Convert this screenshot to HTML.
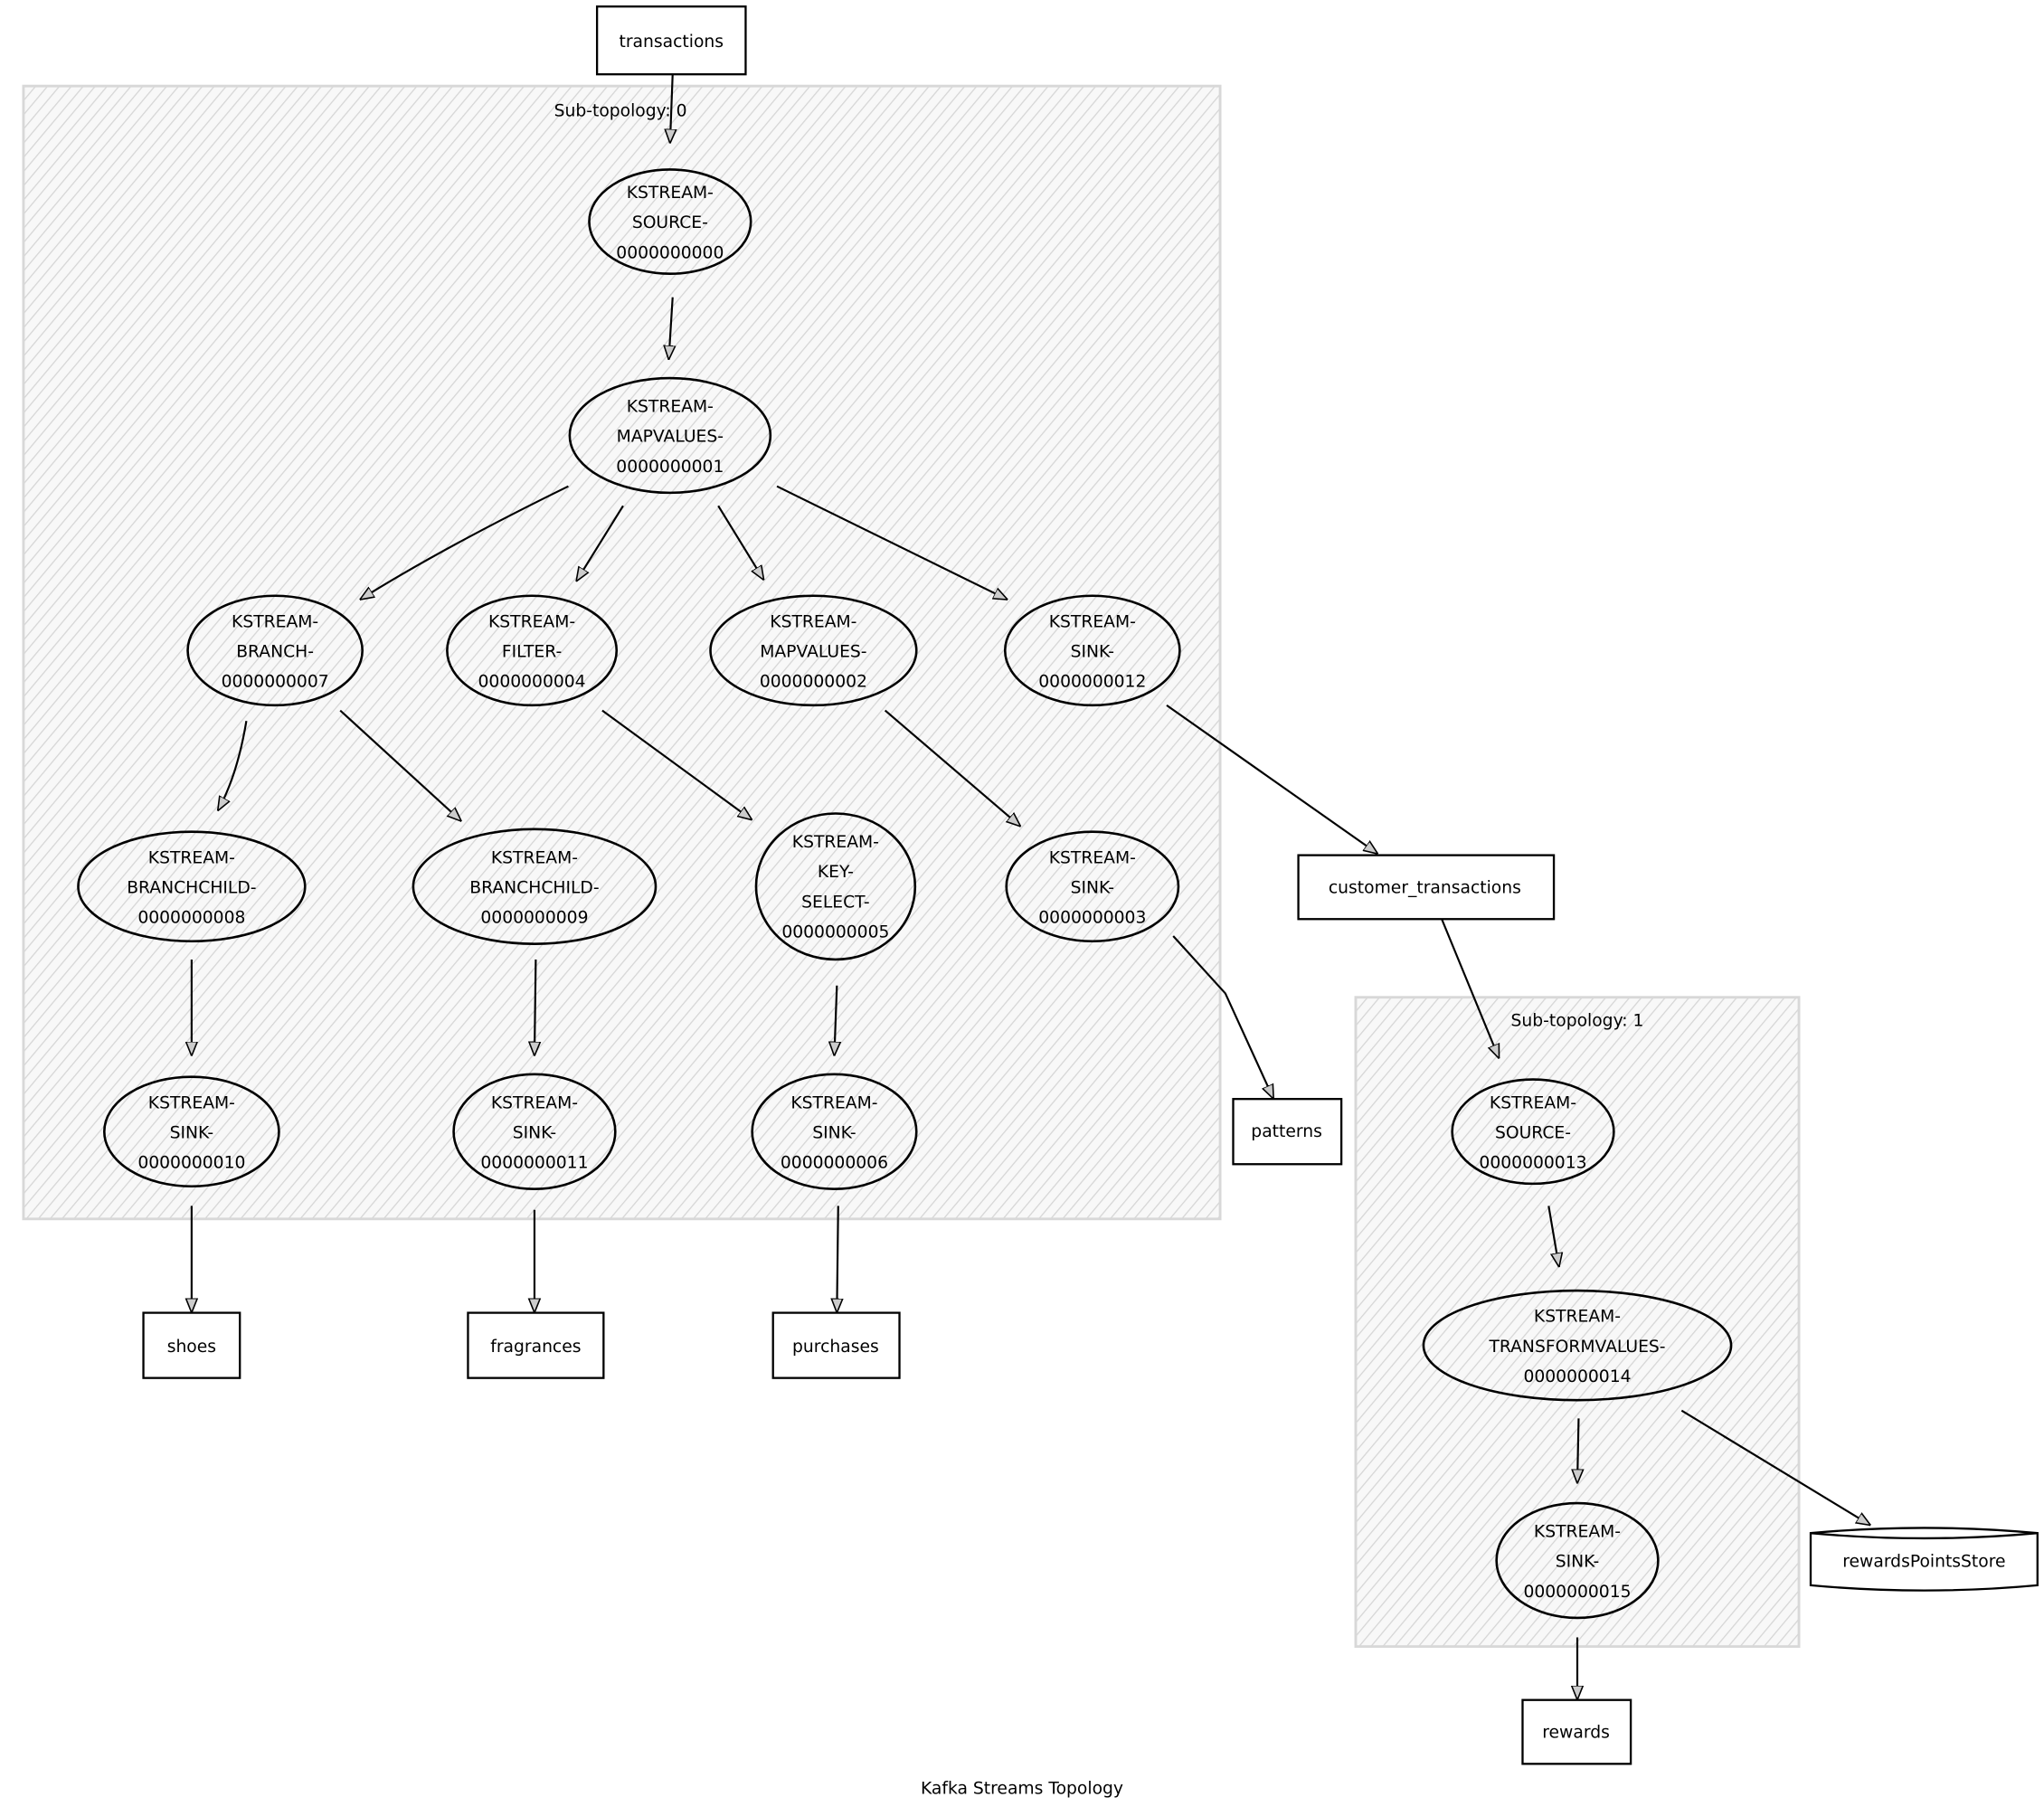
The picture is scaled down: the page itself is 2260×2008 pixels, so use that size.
<!DOCTYPE html>
<html><head><meta charset="utf-8"><style>
html,body{margin:0;padding:0;background:#fff;}
svg{display:block;}
text{font-family:"DejaVu Sans","Liberation Sans",sans-serif;font-size:13px;fill:#000;text-anchor:middle;}
</style></head><body>
<svg width="2260" height="2008" viewBox="0 0 1568 1393" preserveAspectRatio="none" xmlns="http://www.w3.org/2000/svg">
<defs>
<pattern id="h" patternUnits="userSpaceOnUse" width="7" height="7" patternTransform="rotate(40)">
<rect width="7" height="7" fill="#f8f8f8"/>
<line x1="0" y1="0" x2="0" y2="7" stroke="#d6d6d6" stroke-width="1.8"/>
</pattern>
<marker id="a" viewBox="0 0 10 10" refX="10" refY="5" markerWidth="11" markerHeight="11" markerUnits="userSpaceOnUse" orient="auto">
<path d="M0,1 L10,5 L0,9 Z" fill="#ccc" stroke="#000" stroke-width="1"/>
</marker>
</defs>
<rect x="18" y="66" width="918" height="869" fill="url(#h)" stroke="#d8d8d8" stroke-width="2"/>
<rect x="1040" y="765" width="340" height="498" fill="url(#h)" stroke="#d8d8d8" stroke-width="2"/>
<text x="476" y="89">Sub-topology: 0</text>
<text x="1210" y="787">Sub-topology: 1</text>

<g fill="none" stroke="#000" stroke-width="1.5" marker-end="url(#a)">
<path d="M516,57 L514,110"/>
<path d="M516,228 L513,276"/>
<path d="M436,373 Q340,420 276,460"/>
<path d="M478,388 L442,446"/>
<path d="M551,388 L586,445"/>
<path d="M596,373 L773,460"/>
<path d="M189,553 Q182,595 167,622"/>
<path d="M261,545 L354,630"/>
<path d="M462,545 L577,629"/>
<path d="M679,545 L783,634"/>
<path d="M895,541 L1057,655"/>
<path d="M147,736 L147,810"/>
<path d="M411,736 L410,810"/>
<path d="M642,756 L640,810"/>
<path d="M900,718 L940,762 L977,843"/>
<path d="M1106,705 L1150,812"/>
<path d="M147,925 L147,1007"/>
<path d="M410,928 L410,1007"/>
<path d="M643,925 L642,1007"/>
<path d="M1188,925 L1196,972"/>
<path d="M1211,1088 L1210,1138"/>
<path d="M1290,1082 L1435,1170"/>
<path d="M1210,1256 L1210,1304"/>
</g>

<g fill="#fff" stroke="#000" stroke-width="1.6">
<rect x="458" y="5" width="114" height="52"/>
<rect x="996" y="656" width="196" height="49"/>
<rect x="946" y="843" width="83" height="50"/>
<rect x="110" y="1007" width="74" height="50"/>
<rect x="359" y="1007" width="104" height="50"/>
<rect x="593" y="1007" width="97" height="50"/>
<rect x="1168" y="1304" width="83" height="49"/>
<path d="M1389,1176 L1389,1216 Q1476,1224 1563,1216 L1563,1176 Q1476,1168 1389,1176 Z"/>
<path d="M1389,1176 Q1476,1184 1563,1176" fill="none"/>
</g>
<g fill="none" stroke="#000" stroke-width="1.8">
<ellipse cx="514" cy="170" rx="62" ry="40"/>
<ellipse cx="514" cy="334" rx="77" ry="44"/>
<ellipse cx="211" cy="499" rx="67" ry="42"/>
<ellipse cx="408" cy="499" rx="65" ry="42"/>
<ellipse cx="624" cy="499" rx="79" ry="42"/>
<ellipse cx="838" cy="499" rx="67" ry="42"/>
<ellipse cx="147" cy="680" rx="87" ry="42"/>
<ellipse cx="410" cy="680" rx="93" ry="44"/>
<ellipse cx="641" cy="680" rx="61" ry="56"/>
<ellipse cx="838" cy="680" rx="66" ry="42"/>
<ellipse cx="147" cy="868" rx="67" ry="42"/>
<ellipse cx="410" cy="868" rx="62" ry="44"/>
<ellipse cx="640" cy="868" rx="63" ry="44"/>
<ellipse cx="1176" cy="868" rx="62" ry="40"/>
<ellipse cx="1210" cy="1032" rx="118" ry="42"/>
<ellipse cx="1210" cy="1197" rx="62" ry="44"/>
</g>

<text x="515" y="36">transactions</text>
<text x="1093" y="685">customer_transactions</text>
<text x="987" y="872">patterns</text>
<text x="147" y="1037">shoes</text>
<text x="411" y="1037">fragrances</text>
<text x="641" y="1037">purchases</text>
<text x="1209" y="1333">rewards</text>
<text x="1476" y="1202">rewardsPointsStore</text>
<text x="784" y="1376">Kafka Streams Topology</text>

<text x="514" y="152">KSTREAM-</text><text x="514" y="175">SOURCE-</text><text x="514" y="198">0000000000</text>
<text x="514" y="316">KSTREAM-</text><text x="514" y="339">MAPVALUES-</text><text x="514" y="362">0000000001</text>
<text x="211" y="481">KSTREAM-</text><text x="211" y="504">BRANCH-</text><text x="211" y="527">0000000007</text>
<text x="408" y="481">KSTREAM-</text><text x="408" y="504">FILTER-</text><text x="408" y="527">0000000004</text>
<text x="624" y="481">KSTREAM-</text><text x="624" y="504">MAPVALUES-</text><text x="624" y="527">0000000002</text>
<text x="838" y="481">KSTREAM-</text><text x="838" y="504">SINK-</text><text x="838" y="527">0000000012</text>
<text x="147" y="662">KSTREAM-</text><text x="147" y="685">BRANCHCHILD-</text><text x="147" y="708">0000000008</text>
<text x="410" y="662">KSTREAM-</text><text x="410" y="685">BRANCHCHILD-</text><text x="410" y="708">0000000009</text>
<text x="641" y="650">KSTREAM-</text><text x="641" y="673">KEY-</text><text x="641" y="696">SELECT-</text><text x="641" y="719">0000000005</text>
<text x="838" y="662">KSTREAM-</text><text x="838" y="685">SINK-</text><text x="838" y="708">0000000003</text>
<text x="147" y="850">KSTREAM-</text><text x="147" y="873">SINK-</text><text x="147" y="896">0000000010</text>
<text x="410" y="850">KSTREAM-</text><text x="410" y="873">SINK-</text><text x="410" y="896">0000000011</text>
<text x="640" y="850">KSTREAM-</text><text x="640" y="873">SINK-</text><text x="640" y="896">0000000006</text>
<text x="1176" y="850">KSTREAM-</text><text x="1176" y="873">SOURCE-</text><text x="1176" y="896">0000000013</text>
<text x="1210" y="1014">KSTREAM-</text><text x="1210" y="1037">TRANSFORMVALUES-</text><text x="1210" y="1060">0000000014</text>
<text x="1210" y="1179">KSTREAM-</text><text x="1210" y="1202">SINK-</text><text x="1210" y="1225">0000000015</text>
</svg>
</body></html>
